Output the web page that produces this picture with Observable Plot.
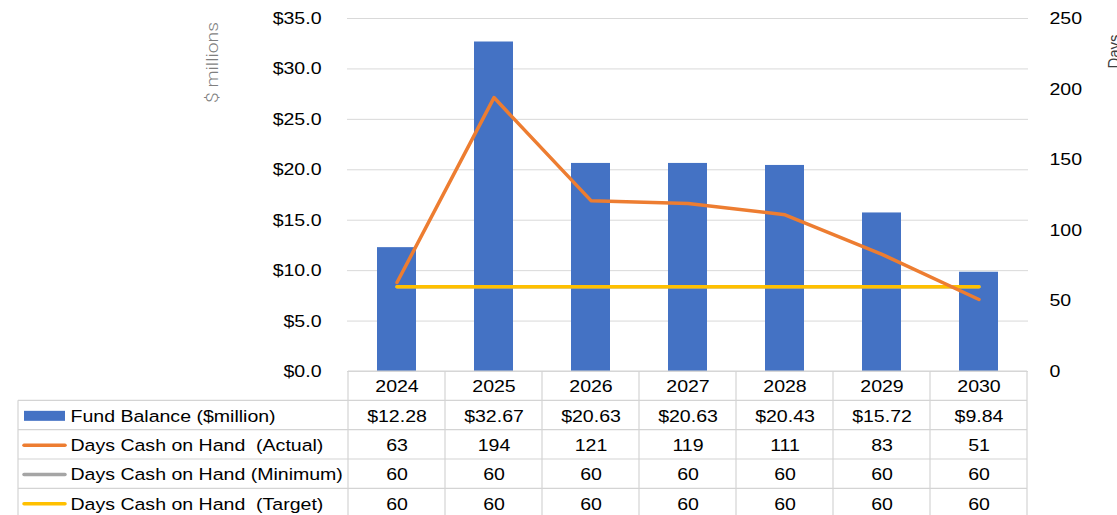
<!DOCTYPE html>
<html>
<head>
<meta charset="utf-8">
<script src="https://cdn.jsdelivr.net/npm/d3@7"></script>
<script src="https://cdn.jsdelivr.net/npm/@observablehq/plot@0.6"></script>
<style>
  html, body { margin: 0; padding: 0; background: #fff; }
  svg text { white-space: pre; }
</style>
</head>
<body>
<script>
// Fund balance and days cash on hand, 2024–2030
const years = ["2024", "2025", "2026", "2027", "2028", "2029", "2030"];
const fundBalance = [12.28, 32.67, 20.63, 20.63, 20.43, 15.72, 9.84];   // $ millions
const daysActual  = [63, 194, 121, 119, 111, 83, 51];
const daysMinimum = [60, 60, 60, 60, 60, 60, 60];
const daysTarget  = [60, 60, 60, 60, 60, 60, 60];

const leftTicks  = [0, 5, 10, 15, 20, 25, 30, 35];
const rightTicks = [0, 50, 100, 150, 200, 250];

const seriesRows = [
  {label: "Fund Balance ($million)",      values: fundBalance, fmt: v => "$" + v.toFixed(2), color: "#4472C4", kind: "bar"},
  {label: "Days Cash on Hand  (Actual)",  values: daysActual,  fmt: v => String(v), color: "#ED7D31", kind: "line"},
  {label: "Days Cash on Hand (Minimum)",  values: daysMinimum, fmt: v => String(v), color: "#A5A5A5", kind: "line"},
  {label: "Days Cash on Hand  (Target)",  values: daysTarget,  fmt: v => String(v), color: "#FFC000", kind: "line"}
];

// secondary axis (days) shares the primary pixel range: 250 days <-> $35.0
const DAY = 35 / 250;
const idx = years.map((_, i) => i);

const W = 1117, H = 515;
const ROW = 29.33;           // data-table row height
const HEAD = 15.5;           // centre of the year row below the plot
const rowDy = k => HEAD + ROW * (k + 1);
const FS = 17;
const STRETCH = 1.15;

const cell = {frameAnchor: "bottom", lineAnchor: "middle", fontSize: FS, fill: "#000"};

const marks = [
  Plot.ruleY(leftTicks, {stroke: "#d9d9d9", strokeWidth: 1}),
  Plot.barY(idx, {x: i => years[i], y: i => fundBalance[i], fill: "#4472C4"}),
  Plot.line(idx, {x: i => years[i], y: i => daysMinimum[i] * DAY, stroke: "#A5A5A5", strokeWidth: 3.5, strokeLinecap: "round"}),
  Plot.line(idx, {x: i => years[i], y: i => daysTarget[i] * DAY, stroke: "#FFC000", strokeWidth: 3.5, strokeLinecap: "round"}),
  Plot.line(idx, {x: i => years[i], y: i => daysActual[i] * DAY, stroke: "#ED7D31", strokeWidth: 3.5, strokeLinecap: "round", strokeLinejoin: "round"}),
  // left axis labels
  Plot.text(leftTicks, {y: d => d, text: d => "$" + d.toFixed(1), frameAnchor: "left", textAnchor: "end", dx: -26, fontSize: FS, fill: "#000"}),
  // right axis labels
  Plot.text(rightTicks, {y: d => d * DAY, text: d => String(d), frameAnchor: "right", textAnchor: "start", dx: 21, fontSize: FS, fill: "#000"}),
  // data table: year header
  Plot.text(years, {...cell, x: d => d, text: d => d, dy: HEAD})
];

seriesRows.forEach((row, k) => {
  marks.push(Plot.text(idx, {...cell, x: i => years[i], text: i => row.fmt(row.values[i]), dy: rowDy(k)}));
  marks.push(Plot.text([row.label], {...cell, text: d => d, frameAnchor: "bottom-left", textAnchor: "start", dx: -277, dy: rowDy(k)}));
});

const svg = Plot.plot({
  width: W,
  height: H,
  marginLeft: 347,
  marginRight: 89,
  marginTop: 18,
  marginBottom: 144,
  x: {domain: years, paddingInner: 0.6, paddingOuter: 0.3, axis: null},
  y: {domain: [0, 35], axis: null},
  style: {fontFamily: "'Liberation Sans', Arial, sans-serif", fontSize: FS + "px", color: "#000", background: "#fff"},
  marks
});

// widen the text glyphs a little around each anchor point
svg.querySelectorAll("text").forEach(t => {
  const ax = t.getAttribute("x"), ay = t.getAttribute("y");
  const x = ax !== null && isFinite(+ax) ? +ax : 0;
  const y = ay !== null && isFinite(+ay) ? +ay : 0;
  if (ax !== null && isFinite(+ax)) t.removeAttribute("x");
  if (ay !== null && isFinite(+ay)) t.removeAttribute("y");
  const tr = t.getAttribute("transform") || "";
  t.setAttribute("transform", `${tr} translate(${x},${y}) scale(${STRETCH},1)`);
});

const root = d3.select(svg);
const sx = svg.scale("x");
const sy = svg.scale("y");
const base = sy.apply(0);
const half = sx.bandwidth / 2;
const centers = years.map(y => sx.apply(y) + half);
const edges = centers.map(c => c - sx.step / 2).concat([centers[centers.length - 1] + sx.step / 2]);
const tableLeft = 18;
const tableBottom = base + HEAD + ROW * 4.5 + ROW / 2;

// data-table grid
const grid = root.append("g").attr("stroke", "#d4d4d4").attr("stroke-width", 1.2).attr("fill", "none");
grid.append("line").attr("x1", edges[0]).attr("x2", edges[edges.length - 1]).attr("y1", base).attr("y2", base);
for (let k = 1; k <= 4; k++) {
  const yy = base + ROW * k;
  grid.append("line").attr("x1", tableLeft).attr("x2", edges[edges.length - 1]).attr("y1", yy).attr("y2", yy);
}
edges.forEach(e => grid.append("line").attr("x1", e).attr("x2", e).attr("y1", base).attr("y2", tableBottom));
grid.append("line").attr("x1", tableLeft).attr("x2", tableLeft).attr("y1", base + ROW).attr("y2", tableBottom);

// legend keys in the table's first column
seriesRows.forEach((row, k) => {
  const cy = base + rowDy(k);
  if (row.kind === "bar") {
    root.append("rect").attr("x", 24).attr("y", cy - 5).attr("width", 41).attr("height", 10).attr("fill", row.color);
  } else {
    root.append("line").attr("x1", 24).attr("x2", 65).attr("y1", cy).attr("y2", cy)
      .attr("stroke", row.color).attr("stroke-width", 3.5).attr("stroke-linecap", "round");
  }
});

// axis titles
root.append("text")
  .attr("transform", `translate(217.5,62.5) scale(${STRETCH},1) rotate(-90)`)
  .attr("text-anchor", "middle")
  .attr("font-family", "Roboto, 'Liberation Sans', sans-serif")
  .attr("font-weight", 300)
  .attr("font-size", 15)
  .attr("textLength", 81)
  .attr("lengthAdjust", "spacingAndGlyphs")
  .attr("fill", "#7f7f7f")
  .text("$ millions");

root.append("text")
  .attr("transform", `translate(1119.5,51.5) scale(${STRETCH},1) rotate(-90)`)
  .attr("text-anchor", "middle")
  .attr("font-size", 15)
  .attr("fill", "#404040")
  .text("Days");

document.body.appendChild(svg);
</script>
</body>
</html>
